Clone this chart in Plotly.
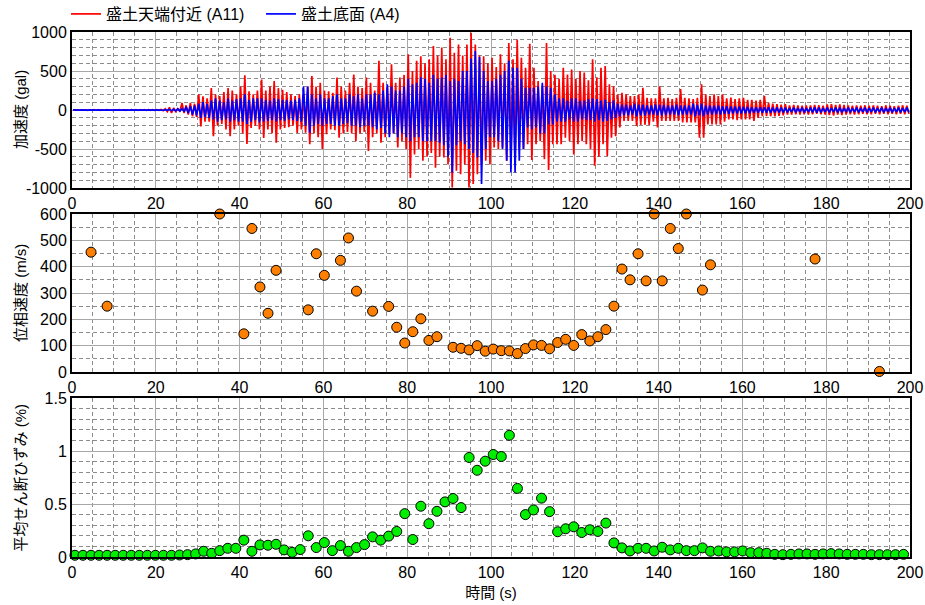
import plotly.graph_objects as go

# ---------------- acceleration records: per-second peak (max / min) values (gal)
a11_max = [3, 3, 3, 3, 3, 4, 3, 3, 4, 3, 3, 4, 3, 3, 4, 4, 3, 4, 4, 5,
           5, 8, 15, 35, 25, 15, 90, 60, 90, 80,
           200, 175, 150, 280, 200, 180, 230, 280, 250, 200,
           300, 445, 240, 200, 250, 390, 250, 300, 370, 280,
           260, 230, 200, 180, 200, 200, 300, 435, 300, 350,
           250, 240, 220, 415, 300, 250, 350, 455, 300, 280,
           415, 350, 250, 630, 350, 300, 585, 350, 415, 450,
           715, 500, 630, 690, 600, 650, 820, 700, 800, 650,
           925, 735, 840, 700, 840, 990, 840, 700, 690, 600,
           670, 550, 715, 600, 860, 650, 905, 670, 540, 850,
           540, 370, 300, 860, 500, 450, 400, 540, 455, 520,
           400, 500, 480, 380, 650, 420, 540, 565, 330, 305,
           200, 220, 200, 180, 180, 200, 285, 155, 150, 150,
           305, 150, 155, 140, 155, 270, 155, 150, 140, 155,
           330, 200, 180, 200, 180, 200, 150, 160, 140, 150,
           155, 130, 130, 120, 130, 180, 90, 80, 75, 70,
           75, 60, 65, 60, 55, 60, 60, 65, 60, 55,
           70, 75, 65, 70, 65, 60, 55, 60, 55, 60,
           55, 60, 55, 50, 60, 55, 50, 55, 60, 55]
a11_min = [-3, -3, -3, -4, -3, -3, -4, -3, -3, -4, -3, -3, -4, -3, -3, -4, -3, -4, -4, -5,
           -5, -8, -20, -38, -20, -15, -40, -60, -80, -90,
           -210, -150, -150, -335, -200, -180, -250, -335, -250, -200,
           -300, -435, -230, -200, -250, -360, -250, -300, -420, -250,
           -230, -220, -200, -295, -250, -290, -440, -300, -350, -500,
           -310, -250, -260, -355, -300, -280, -300, -400, -300, -280,
           -525, -350, -300, -420, -350, -310, -300, -480, -400, -500,
           -870, -570, -500, -650, -600, -550, -740, -600, -610, -700,
           -995, -780, -825, -700, -995, -950, -825, -700, -650, -700,
           -480, -500, -480, -650, -650, -700, -480, -500, -440, -640,
           -440, -400, -630, -770, -440, -440, -440, -355, -400, -570,
           -440, -400, -440, -500, -714, -600, -440, -590, -355, -335,
           -225, -140, -140, -140, -205, -190, -190, -190, -150, -225,
           -140, -140, -140, -140, -140, -160, -160, -160, -160, -355,
           -355, -185, -185, -185, -185, -150, -120, -120, -130, -120,
           -120, -120, -140, -100, -80, -80, -80, -80, -75, -70,
           -60, -60, -55, -60, -55, -60, -55, -50, -55, -60,
           -65, -70, -60, -65, -60, -55, -60, -55, -50, -55,
           -55, -50, -55, -50, -55, -50, -55, -50, -55, -50]
a4_max = [2, 2, 2, 2, 2, 2, 2, 2, 2, 2, 2, 2, 2, 2, 2, 2, 2, 2, 2, 2,
          2, 3, 5, 8, 10, 15, 20, 40, 50, 60,
          80, 100, 80, 120, 150, 120, 100, 150, 120, 140,
          150, 200, 130, 150, 150, 150, 130, 120, 150, 140,
          130, 130, 120, 130, 150, 300, 300, 200, 150, 200,
          150, 150, 180, 200, 150, 150, 200, 180, 200, 150,
          200, 200, 220, 200, 250, 330, 300, 250, 250, 300,
          400, 330, 350, 420, 400, 350, 450, 400, 415, 450,
          370, 400, 370, 500, 500, 660, 755, 680, 500, 370,
          370, 400, 450, 500, 630, 540, 540, 400, 285, 285,
          285, 300, 350, 300, 285, 200, 150, 150, 120, 150,
          150, 120, 120, 140, 150, 140, 120, 135, 100, 120,
          80, 70, 70, 60, 80, 70, 70, 60, 60, 70,
          70, 65, 60, 60, 70, 60, 60, 60, 80, 70,
          80, 60, 60, 55, 60, 50, 50, 45, 45, 45,
          40, 40, 35, 35, 35, 35, 35, 30, 30, 30,
          30, 25, 30, 25, 30, 25, 30, 35, 30, 25,
          30, 25, 30, 30, 25, 30, 25, 30, 25, 30,
          25, 30, 25, 30, 25, 30, 25, 30, 25, 30]
a4_min = [-2, -2, -2, -2, -2, -2, -2, -2, -2, -2, -2, -2, -2, -2, -2, -2, -2, -2, -2, -2,
          -2, -3, -5, -8, -10, -15, -20, -40, -60, -70,
          -100, -90, -100, -120, -150, -130, -120, -150, -130, -150,
          -150, -180, -150, -130, -160, -150, -140, -130, -150, -130,
          -140, -120, -130, -140, -150, -200, -290, -200, -180, -200,
          -180, -180, -200, -200, -180, -170, -200, -200, -220, -200,
          -200, -220, -250, -230, -300, -350, -300, -350, -300, -350,
          -400, -350, -350, -400, -400, -400, -400, -420, -450, -600,
          -800, -450, -400, -440, -500, -550, -610, -950, -500, -350,
          -350, -400, -500, -650, -800, -800, -650, -500, -225, -250,
          -225, -300, -300, -185, -185, -150, -150, -150, -120, -150,
          -150, -120, -130, -130, -150, -130, -150, -140, -120, -100,
          -80, -70, -70, -60, -80, -70, -70, -60, -60, -70,
          -70, -65, -60, -60, -70, -60, -60, -60, -80, -70,
          -80, -60, -60, -55, -60, -50, -50, -45, -45, -45,
          -40, -40, -35, -35, -35, -35, -35, -30, -30, -30,
          -30, -25, -30, -25, -30, -25, -30, -35, -30, -25,
          -30, -25, -30, -30, -25, -30, -25, -30, -25, -30,
          -25, -30, -25, -30, -25, -30, -25, -30, -25, -30]

# ---------------- analysis windows
T0 = 0.7
DT = 1.92
N_WIN = 104

# phase velocity (m/s); missing windows have no value
phase_vel = {2: 455, 4: 250, 18: 600, 21: 145, 22: 545, 23: 323, 24: 223, 25: 386,
             29: 236, 30: 449, 31: 367, 33: 424, 34: 509, 35: 307, 37: 231, 39: 249,
             40: 170, 41: 110, 42: 153, 43: 202, 44: 120, 45: 134, 47: 94, 48: 90,
             49: 84, 50: 100, 51: 79, 52: 87, 53: 81, 54: 80, 55: 70, 56: 89, 57: 103,
             58: 101, 59: 88, 60: 112, 61: 124, 62: 101, 63: 142, 64: 118, 65: 134,
             66: 161, 67: 250, 68: 391, 69: 350, 70: 449, 71: 346, 72: 600, 73: 346,
             74: 545, 75: 469, 76: 600, 78: 311, 79: 407, 92: 429, 100: 2}

# mean shear strain (%)
shear_strain = [0.016, 0.016, 0.016, 0.016, 0.016, 0.016, 0.016, 0.016, 0.016, 0.016,
                0.016, 0.016, 0.016, 0.019, 0.022, 0.029, 0.054, 0.035, 0.060, 0.082,
                0.082, 0.159, 0.054, 0.114, 0.111, 0.120, 0.067, 0.044, 0.070, 0.200,
                0.089, 0.136, 0.060, 0.108, 0.054, 0.089, 0.117, 0.190, 0.159, 0.197,
                0.241, 0.409, 0.165, 0.479, 0.314, 0.431, 0.520, 0.552, 0.466, 0.939,
                0.818, 0.904, 0.967, 0.948, 1.148, 0.647, 0.400, 0.444, 0.555, 0.428,
                0.238, 0.266, 0.285, 0.231, 0.257, 0.241, 0.320, 0.133, 0.086, 0.057,
                0.082, 0.082, 0.057, 0.092, 0.067, 0.082, 0.060, 0.060, 0.086, 0.054,
                0.057, 0.048, 0.048, 0.057, 0.041, 0.041, 0.035, 0.025, 0.022, 0.025,
                0.029, 0.029, 0.025, 0.029, 0.032, 0.029, 0.025, 0.025, 0.025, 0.022,
                0.022, 0.022, 0.022, 0.025]

x_ticks = [0, 20, 40, 60, 80, 100, 120, 140, 160, 180, 200]
acc_ticks = [-1000, -500, 0, 500, 1000]
acc_ticktext = ["-1000", "-500", "0", "500", "1000"]
y_titles = ["加速度 (gal)", "位相速度 (m/s)", "平均せん断ひずみ (%)"]


def waveform(vmax, vmin):
    t, v = [], []
    for k, (hi, lo) in enumerate(zip(vmax, vmin)):
        t += [k + 0.25, k + 0.75]
        v += [hi, lo]
    return t, v


win_t = [round(T0 + DT * i, 3) for i in range(N_WIN)]
pv = [phase_vel.get(i) for i in range(N_WIN)]

FONT = "'Liberation Sans', Arial, 'Noto Sans CJK JP', sans-serif"

fig = go.Figure()
t11, v11 = waveform(a11_max, a11_min)
t4, v4 = waveform(a4_max, a4_min)
fig.add_trace(go.Scatter(x=t11, y=v11, mode="lines", name="盛土天端付近 (A11)",
                         line=dict(color="#ff0000", width=1.7), xaxis="x", yaxis="y"))
fig.add_trace(go.Scatter(x=t4, y=v4, mode="lines", name="盛土底面 (A4)",
                         line=dict(color="#0000ff", width=1.7), xaxis="x", yaxis="y"))
fig.add_trace(go.Scatter(x=win_t, y=pv, mode="markers", showlegend=False,
                         marker=dict(color="#ff8000", size=10, line=dict(color="black", width=1)),
                         cliponaxis=False, xaxis="x2", yaxis="y2"))
fig.add_trace(go.Scatter(x=win_t, y=shear_strain, mode="markers", showlegend=False,
                         marker=dict(color="#00ee00", size=10, line=dict(color="black", width=1)),
                         cliponaxis=False, xaxis="x3", yaxis="y3"))

H_PLOT = 525.0
W_PLOT = 838.0
dom_top = [(557 - 188) / H_PLOT, 1.0]
dom_mid = [(557 - 372) / H_PLOT, (557 - 214) / H_PLOT]
dom_bot = [0.0, (557 - 398) / H_PLOT]

grid_major = "#a8a8a8"
grid_minor = "#8c8c8c"


def xax(anchor, title=None):
    d = dict(range=[0, 200], tickvals=x_ticks, showgrid=True, gridcolor=grid_major, gridwidth=1,
             minor=dict(dtick=5, tick0=0, showgrid=True, gridcolor=grid_minor, griddash="4px,3px", gridwidth=1),
             showline=True, mirror=True, linecolor="black", linewidth=2, ticks="", zeroline=False,
             anchor=anchor, tickfont=dict(size=16, color="black"), domain=[0, 1], automargin=False)
    if title:
        d["title"] = dict(text=title, font=dict(size=15, color="black"), standoff=7)
    return d


def yax(anchor, rng, tickvals, minor_dtick, domain, ticktext=None):
    d = dict(range=rng, tickvals=tickvals, showgrid=True, gridcolor=grid_major, gridwidth=1,
             minor=dict(dtick=minor_dtick, tick0=0, showgrid=True, gridcolor=grid_minor, griddash="4px,3px", gridwidth=1),
             showline=True, mirror=True, linecolor="black", linewidth=2, ticks="", zeroline=False,
             anchor=anchor, domain=domain, tickfont=dict(size=16, color="black"), automargin=False)
    if ticktext:
        d["ticktext"] = ticktext
    return d


annotations = []
for title, dom in zip(y_titles, [dom_top, dom_mid, dom_bot]):
    annotations.append(dict(text=title, xref="paper", yref="paper", x=(20 - 72) / W_PLOT,
                            y=(dom[0] + dom[1]) / 2, xanchor="center", yanchor="middle",
                            textangle=-90, showarrow=False, font=dict(size=15, color="black")))

fig.update_layout(
    width=925, height=605,
    margin=dict(l=72, r=15, t=32, b=48, autoexpand=False),
    paper_bgcolor="white", plot_bgcolor="white",
    font=dict(family=FONT, size=15, color="black"),
    xaxis=xax("y"),
    xaxis2=xax("y2"),
    xaxis3=xax("y3", "時間 (s)"),
    yaxis=yax("x", [-1000, 1000], acc_ticks, 100, dom_top, acc_ticktext),
    yaxis2=yax("x2", [0, 600], [0, 100, 200, 300, 400, 500, 600], 50, dom_mid),
    yaxis3=yax("x3", [0, 1.5], [0, 0.5, 1, 1.5], 0.1, dom_bot),
    annotations=annotations,
    legend=dict(orientation="h", xref="container", yref="container",
                x=(72 - 6) / 925, xanchor="left", y=1 - 14 / 605, yanchor="middle",
                font=dict(size=16, color="black"), bgcolor="rgba(0,0,0,0)",
                itemwidth=30, tracegroupgap=0, entrywidth=150, entrywidthmode="pixels"),
    showlegend=True,
)

fig.write_html("out.html")
